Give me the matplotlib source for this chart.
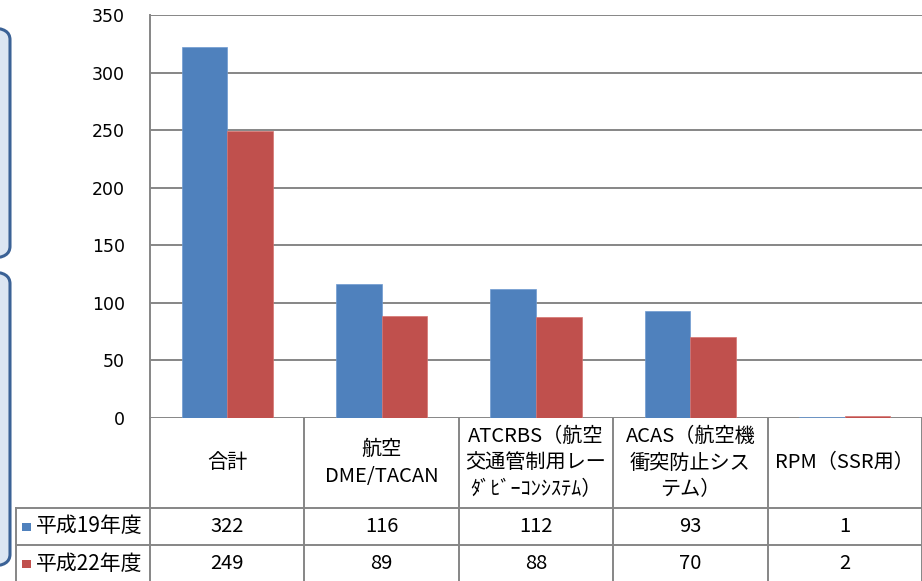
import numpy as np
import matplotlib.pyplot as plt
from matplotlib.patches import FancyBboxPatch, Rectangle
from matplotlib.lines import Line2D
from matplotlib.transforms import blended_transform_factory

plt.rcParams['font.family'] = ['Noto Sans CJK JP', 'DejaVu Sans']

categories = ["合計", "航空\nDME/TACAN", "ATCRBS（航空\n交通管制用レー\nﾀﾞﾋﾞｰｺﾝｼｽﾃﾑ）",
              "ACAS（航空機\n衝突防止シス\nテム）", "RPM（SSR用）"]
series_names = ["平成19年度", "平成22年度"]
h19 = [322, 116, 112, 93, 1]
h22 = [249, 89, 88, 70, 2]
yticks = [0, 50, 100, 150, 200, 250, 300, 350]

BLUE = "#4f81bd"
RED = "#c0504d"
GRID = "#868686"
FS = 14.5

W, H = 922, 581
fig = plt.figure(figsize=(W / 100, H / 100), dpi=100)


def fy(py):
    # pixel row (from top) -> figure fraction
    return 1 - py / H


# side panels (partly off the left edge)
for top, bottom in [(28, 258), (272, 566)]:
    box = FancyBboxPatch((-40 / W, fy(bottom)), 50 / W, (bottom - top) / H,
                         boxstyle="round,pad=0,rounding_size=0.02",
                         transform=fig.transFigure, facecolor="#dce6f2",
                         edgecolor="#3b6296", linewidth=2.2, zorder=0)
    fig.add_artist(box)

ax = fig.add_axes([150 / W, fy(418), (W - 150) / W, (418 - 15) / H])
x = np.arange(len(categories))
bw = 0.295
ax.bar(x - bw / 2, h19, bw, color=BLUE, edgecolor="#6f9bd1", linewidth=0.5, zorder=3)
ax.bar(x + bw / 2, h22, bw, color=RED, edgecolor="#d57471", linewidth=0.5, zorder=3)

ax.set_xlim(-0.5, len(categories) - 0.5)
ax.set_ylim(0, 350)
ax.set_yticks(yticks)
ax.set_yticklabels([str(v) for v in yticks], family="DejaVu Sans", fontsize=12.5)
ax.set_xticks([])
ax.yaxis.grid(True, color=GRID, linewidth=1.4)
ax.tick_params(axis="y", length=0, pad=18)
for s in ["right", "top", "bottom"]:
    ax.spines[s].set_visible(False)
ax.spines["left"].set_color(GRID)
ax.spines["left"].set_linewidth(1.4)

# data table under the chart
tr = blended_transform_factory(ax.transData, fig.transFigure)
edges = np.arange(len(categories) + 1) - 0.5
y_top, y_head, y_r1, y_r2 = fy(418), fy(508), fy(545), fy(582)

for e in edges:
    fig.add_artist(Line2D([e, e], [y_top, y_r2], transform=tr, color=GRID, lw=1.4))
for yy in [y_head, y_r1, y_r2]:
    fig.add_artist(Line2D([16 / W, 1], [yy, yy], transform=fig.transFigure, color=GRID, lw=1.4))
fig.add_artist(Line2D([16 / W, 16 / W], [y_head, y_r2], transform=fig.transFigure, color=GRID, lw=1.4))

for i, cat in enumerate(categories):
    fig.text(x[i], (y_top + y_head) / 2, cat, transform=tr, ha="center", va="center",
             fontsize=FS, linespacing=1.33)
    fig.text(x[i], (y_head + y_r1) / 2, str(h19[i]), transform=tr, ha="center", va="center", fontsize=FS)
    fig.text(x[i], (y_r1 + y_r2) / 2, str(h22[i]), transform=tr, ha="center", va="center", fontsize=FS)

for name, color, (ya, yb) in zip(series_names, [BLUE, RED], [(y_head, y_r1), (y_r1, y_r2)]):
    ym = (ya + yb) / 2
    fig.add_artist(Rectangle((22 / W, ym - 4 / H), 9 / W, 8 / H, transform=fig.transFigure,
                             facecolor=color, edgecolor="none"))
    fig.text(36 / W, ym, name, ha="left", va="center", fontsize=15)

fig.savefig("out.png", dpi=100)
